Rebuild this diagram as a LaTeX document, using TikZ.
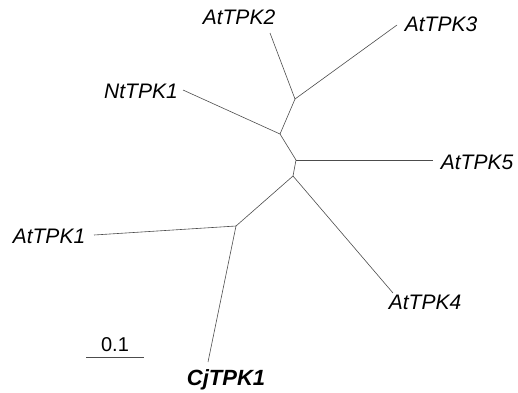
\documentclass[tikz,border=0pt]{standalone}
\usepackage{fontspec}
\setmainfont{Liberation Sans}
\begin{document}
\begin{tikzpicture}[x=1pt,y=-1pt,
  br/.style={draw=black!70,line width=0.6pt},
  lab/.style={font=\fontsize{21}{24}\selectfont\itshape,inner sep=0pt},
  blab/.style={font=\fontsize{22}{25}\selectfont\bfseries\itshape,inner sep=0pt}]
\useasboundingbox (0,0) rectangle (518,392);
% internal nodes
\coordinate (A) at (295,99);
\coordinate (B) at (280,134);
\coordinate (C) at (296,160);
\coordinate (D) at (293,176);
\coordinate (E) at (236,226);
% leaves
\coordinate (l2) at (270,33);
\coordinate (l3) at (397,25);
\coordinate (ln) at (183,90);
\coordinate (l5) at (433,160);
\coordinate (l4) at (393,293);
\coordinate (l1) at (94,235);
\coordinate (lc) at (208,362);
% labels
\node[lab] (t2) at (239,17) {AtTPK2};
\node[lab] (t3) at (441,24) {AtTPK3};
\node[lab] (tn) at (141,91) {NtTPK1};
\node[lab] (t5) at (477,162) {AtTPK5};
\node[lab] (t1) at (49,236) {AtTPK1};
\node[lab] (t4) at (425,302) {AtTPK4};
\node[blab] (tc) at (226,380) {CjTPK1};
% branches
\draw[br] (A) -- (l2);
\draw[br] (A) -- (l3);
\draw[br] (A) -- (B);
\draw[br] (B) -- (ln);
\draw[br] (B) -- (C);
\draw[br] (C) -- (l5);
\draw[br] (C) -- (D);
\draw[br] (D) -- (l4);
\draw[br] (D) -- (E);
\draw[br] (E) -- (l1);
\draw[br] (E) -- (lc);
% scale bar
\coordinate (s0) at (86,357);
\coordinate (s1) at (144,357);
\draw[br] (s0) -- (s1);
\node[font=\fontsize{20}{22}\selectfont,inner sep=0pt] (sl) at (115,345) {0.1};
\end{tikzpicture}
\end{document}
